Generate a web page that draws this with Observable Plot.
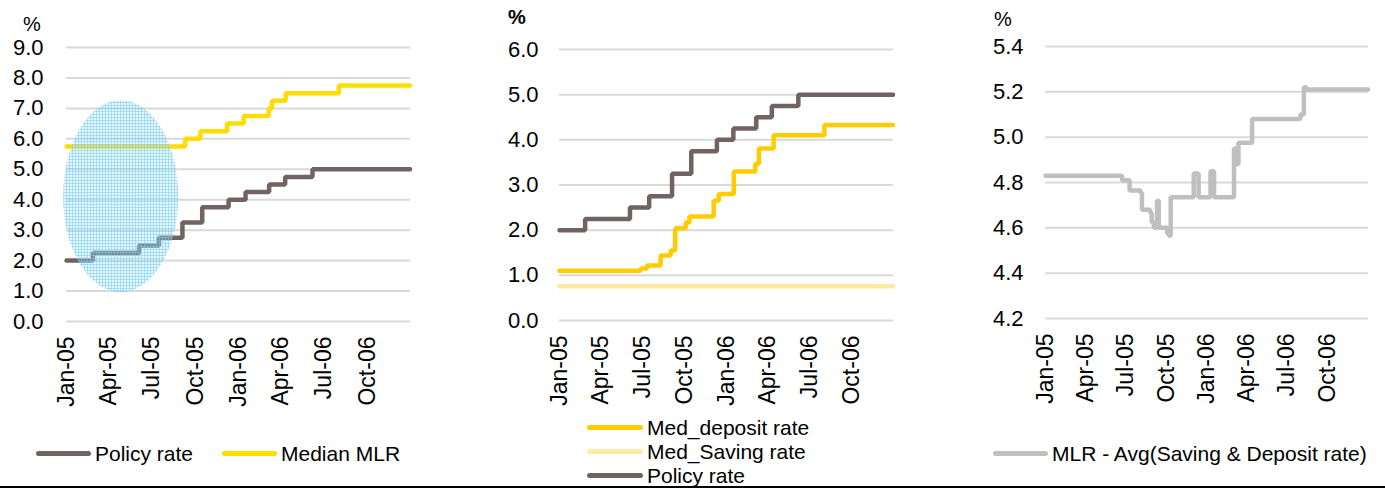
<!DOCTYPE html>
<html><head><meta charset="utf-8">
<script src="https://cdn.jsdelivr.net/npm/d3@7"></script>
<script src="https://cdn.jsdelivr.net/npm/@observablehq/plot@0.6"></script>
<style>
body{margin:0;background:#fff;font-family:"Liberation Sans",Arial,sans-serif;}
#wrap{position:relative;width:1385px;height:489px;overflow:hidden;background:#fff;}
.panel{position:absolute;top:0;}
.pct{position:absolute;font-size:20px;color:#000;line-height:1;}
.leg{position:absolute;font-size:21px;color:#000;display:flex;align-items:center;white-space:nowrap;line-height:1;}
.sw{display:inline-block;height:5px;border-radius:3px;margin-right:4px;}
#base{position:absolute;left:0;top:486px;width:1385px;height:2px;background:#000;}
</style></head><body><div id="wrap"><div id="base"></div></div>
<script>
// ---------- data ----------
const xTickDates = ["2005-01-01","2005-04-01","2005-07-01","2005-10-01","2006-01-01","2006-04-01","2006-07-01","2006-10-01"];
const xDomain = ["2005-01-01","2007-01-01"];

const policyRate = [["2005-01-01",2.00],["2005-02-26",2.25],["2005-06-04",2.50],["2005-07-16",2.75],["2005-09-04",3.25],["2005-10-16",3.75],["2005-12-11",4.00],["2006-01-16",4.25],["2006-03-07",4.50],["2006-04-10",4.75],["2006-06-07",5.00],["2006-12-31",5.00]];
const medianMLR = [["2005-01-01",5.75],["2005-09-10",6.00],["2005-10-12",6.25],["2005-12-08",6.50],["2006-01-12",6.75],["2006-03-06",7.00],["2006-03-13",7.25],["2006-04-11",7.50],["2006-08-02",7.75],["2006-12-31",7.75]];
const medDeposit = [["2005-01-01",1.10],["2005-06-27",1.15],["2005-07-11",1.22],["2005-08-10",1.44],["2005-09-01",1.55],["2005-09-11",2.04],["2005-10-04",2.17],["2005-10-12",2.30],["2005-12-04",2.65],["2005-12-15",2.80],["2006-01-17",3.30],["2006-03-05",3.47],["2006-03-13",3.81],["2006-04-14",4.10],["2006-08-03",4.33],["2006-12-31",4.33]];
const medSaving = [["2005-01-01",0.76],["2006-12-31",0.76]];
const spread = [["2005-01-01",4.83],["2005-06-23",4.81],["2005-07-10",4.765],["2005-08-04",4.755],["2005-08-07",4.68],["2005-08-26",4.665],["2005-08-29",4.625],["2005-09-03",4.60],["2005-09-10",4.72],["2005-09-14",4.60],["2005-10-03",4.575],["2005-10-07",4.565],["2005-10-11",4.735],["2005-12-02",4.84],["2005-12-13",4.735],["2006-01-09",4.85],["2006-01-17",4.735],["2006-03-03",4.95],["2006-03-07",4.88],["2006-03-13",4.975],["2006-04-13",5.08],["2006-07-31",5.10],["2006-08-08",5.22],["2006-08-14",5.21],["2006-12-31",5.21]];

const yTicks1 = [0,1,2,3,4,5,6,7,8,9];
const yTicks2 = [0,1,2,3,4,5,6];
const yTicks3 = [4.2,4.4,4.6,4.8,5.0,5.2,5.4];

const names1 = ["Policy rate","Median MLR"];
const names2 = ["Med_deposit rate","Med_Saving rate","Policy rate"];
const names3 = ["MLR - Avg(Saving & Deposit rate)"];

// highlight annotation (centre date, centre value, half-width in days, half-height in %)
const highlight = {date:"2005-04-27", value:4.1, days:122, units:3.15};

// ---------- styles ----------
const FONT = '"Liberation Sans", Arial, sans-serif';
const C_POLICY = "#726363", C_MLR = "#FFDD00", C_DEP = "#FFCC00", C_SAV = "#FFE9A3", C_SPREAD = "#BFBFBF";
const wrap = document.getElementById("wrap");
const toDate = s => new Date(s + "T00:00:00Z");

function panel(cfg){
  const chart = Plot.plot({
    width: cfg.width, height: 420,
    marginLeft: cfg.ml, marginRight: cfg.mr, marginTop: cfg.mt, marginBottom: 420 - cfg.yb,
    style: {fontFamily: FONT, fontSize: "22px", color: "#000", background: "transparent", overflow: "visible"},
    x: {type: "utc", domain: xDomain.map(toDate)},
    y: {domain: [cfg.yTicks[0], cfg.yTicks[cfg.yTicks.length-1]]},
    marks: [
      Plot.gridY(cfg.yTicks, {stroke: "#D9D9D9", strokeWidth: 2, strokeOpacity: 1}),
      Plot.axisY(cfg.yTicks, {tickSize: 0, tickPadding: cfg.tp, tickFormat: d => d.toFixed(1), label: null}),
      Plot.axisX(xTickDates.map(toDate), {tickSize: 0, tickRotate: -90, tickPadding: 15, tickFormat: d3.utcFormat("%b-%y"), label: null, fontSize: 23}),
      ...cfg.series.map(s => Plot.line(s.data, {x: d => toDate(d[0]), y: d => d[1], curve: "step-after", stroke: s.color, strokeWidth: 4.5, strokeLinejoin: "miter", strokeLinecap: "round"}))
    ]
  });
  chart.classList.add("panel");
  chart.style.left = cfg.left + "px";
  wrap.appendChild(chart);
  return chart;
}

const p1 = panel({left:0, width:430, ml:66, mr:20, mt:47, yb:321, tp:23, yTicks:yTicks1,
  series:[{data:policyRate,color:C_POLICY},{data:medianMLR,color:C_MLR}]});
panel({left:480, width:433, ml:79, mr:20, mt:49, yb:320, tp:21, yTicks:yTicks2,
  series:[{data:medSaving,color:C_SAV},{data:medDeposit,color:C_DEP},{data:policyRate,color:C_POLICY}]});
panel({left:960, width:425, ml:85, mr:17, mt:46, yb:318, tp:22, yTicks:yTicks3,
  series:[{data:spread,color:C_SPREAD}]});

// highlight ellipse on panel 1 (dotted blue pattern)
{
  const sx = p1.scale("x"), sy = p1.scale("y");
  const c = toDate(highlight.date);
  const cx = sx.apply(c), cy = sy.apply(highlight.value);
  const rx = (sx.apply(new Date(c.getTime() + highlight.days*864e5)) - cx);
  const ry = (sy.apply(highlight.value - highlight.units) - cy);
  const svg = d3.select(p1);
  const pat = svg.append("defs").append("pattern").attr("id","dots").attr("width",3).attr("height",3).attr("patternUnits","userSpaceOnUse");
  pat.append("rect").attr("width",3).attr("height",3).attr("fill","rgba(170,225,248,0.28)");
  pat.append("rect").attr("width",3).attr("height",1).attr("fill","rgba(120,205,242,0.55)");
  pat.append("rect").attr("width",1).attr("height",3).attr("fill","rgba(120,205,242,0.55)");
  svg.append("ellipse").attr("cx",cx).attr("cy",cy).attr("rx",rx).attr("ry",ry).attr("fill","url(#dots)");
}

// "%" labels
function addText(cls, html, left, top, extra){ const d=document.createElement("div"); d.className=cls; d.innerHTML=html; d.style.left=left+"px"; d.style.top=top+"px"; if(extra) Object.assign(d.style, extra); wrap.appendChild(d); return d; }
addText("pct","%",23,14);
addText("pct","%",508,7,{fontWeight:"bold"});
addText("pct","%",994,9);

// legends
function legend(name,color,left,cy,swW){
  const d=document.createElement("div"); d.className="leg"; d.style.left=left+"px"; d.style.top=(cy-11)+"px"; d.style.height="22px";
  const sw=document.createElement("span"); sw.className="sw"; sw.style.width=swW+"px"; sw.style.background=color;
  d.appendChild(sw); d.appendChild(document.createTextNode(name)); wrap.appendChild(d);
}
legend(names1[0],C_POLICY,36,453,55);
legend(names1[1],C_MLR,222,453,55);
legend(names2[0],C_DEP,587,427,56);
legend(names2[1],C_SAV,587,451,56);
legend(names2[2],C_POLICY,587,475,56);
legend(names3[0],C_SPREAD,993,453,55);
</script></body></html>
